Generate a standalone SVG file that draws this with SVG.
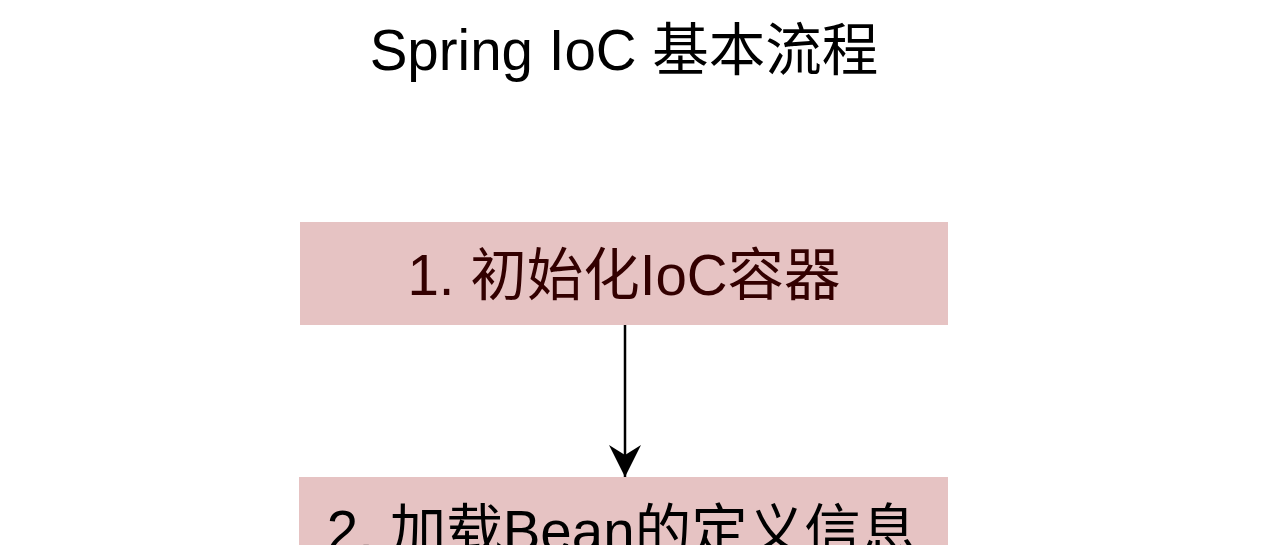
<svg xmlns="http://www.w3.org/2000/svg" width="1280" height="545" viewBox="0 0 1280 545">
<style>
.box{fill:#e6c3c3;stroke:none}
.t{font-family:"Liberation Sans","Noto Sans CJK SC",sans-serif;font-size:56.5px;text-anchor:middle}
.edge{stroke:#000;stroke-width:2.5;fill:none}
</style>
<defs>
<marker id="arr" markerUnits="userSpaceOnUse" markerWidth="34" markerHeight="34" refX="32" refY="16" orient="auto" viewBox="0 0 34 32">
<path d="M0,0 L32,16 L0,32 L10,16 Z" fill="#000"/>
</marker>
</defs>
<rect width="1280" height="545" fill="#fff"/>
<text class="t" x="624" y="70" fill="#000">Spring IoC 基本流程</text>
<g id="node1">
<rect class="box" x="300" y="222" width="648" height="103"/>
<text class="t" x="624" y="295" fill="#330000">1. 初始化IoC容器</text>
</g>
<g id="node2">
<rect class="box" x="299" y="477" width="649" height="103"/>
<text class="t" x="622" y="551" fill="#000">2. 加载Bean的定义信息</text>
</g>
<g id="connectors">
<line class="edge" x1="625" y1="325" x2="625" y2="477" marker-end="url(#arr)"/>
</g>
</svg>
